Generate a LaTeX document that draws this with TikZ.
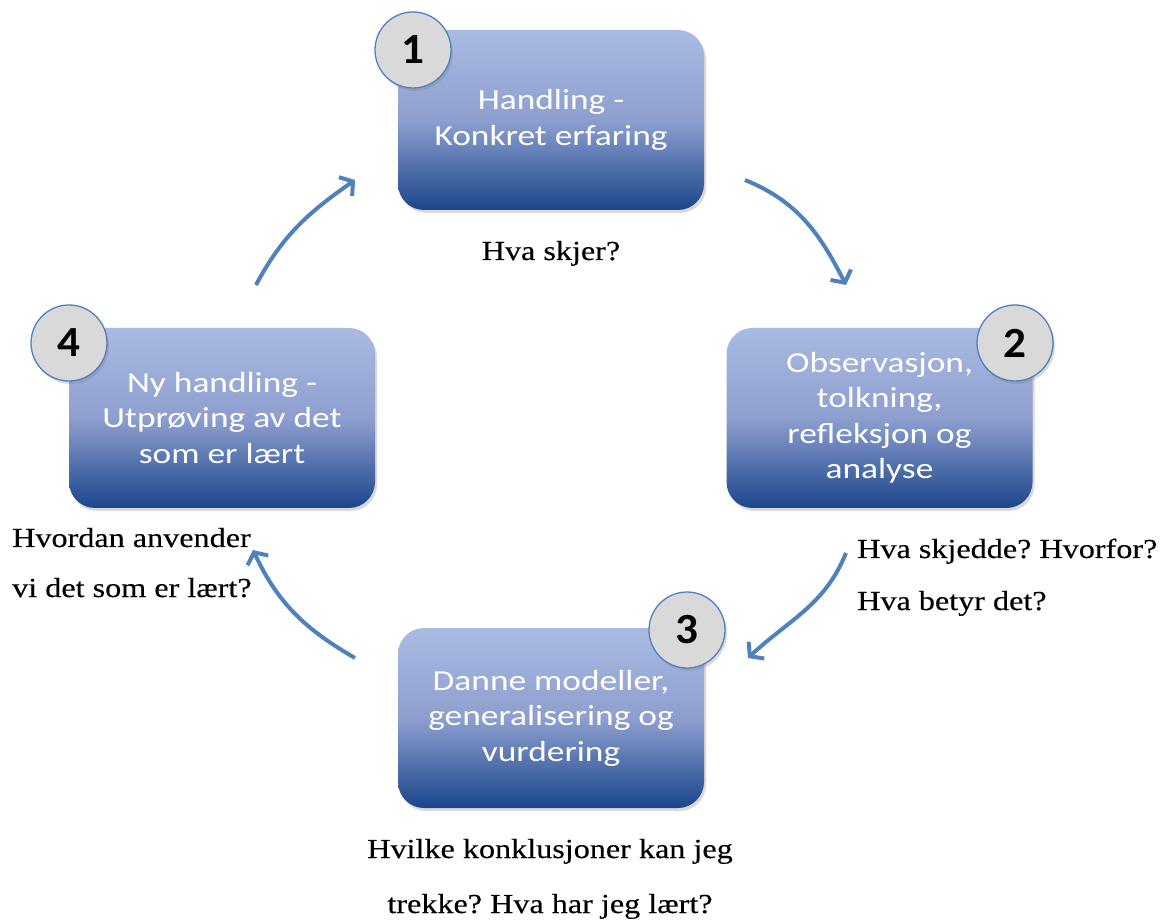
\documentclass[tikz,border=0pt]{standalone}
\usepackage{fontspec}
\usetikzlibrary{arrows.meta,shadows}
\newfontfamily\boxfont[FakeStretch=1.22]{Carlito}
\newfontfamily\numfont[FakeStretch=1.05]{Carlito}
\newfontfamily\qfont[FakeStretch=1.17,FakeBold=0.3]{Liberation Serif}
\definecolor{boxtop}{HTML}{A9BAE2}
\definecolor{boxmid}{HTML}{8E9FCF}
\definecolor{boxbot}{HTML}{1B468C}
\definecolor{arrowblue}{HTML}{4F81BD}
\definecolor{circfill}{HTML}{D9D9D9}
\frenchspacing
\begin{document}
\begin{tikzpicture}[x=1pt,y=1pt,
  stagebox/.style={rectangle, rounded corners=26pt, minimum width=306pt,
    minimum height=180pt, inner sep=0pt, top color=boxtop, bottom color=boxbot,
    middle color=boxmid, text=white, align=center,
    font=\boxfont\fontsize{29}{35.5}\selectfont,
    drop shadow={shadow xshift=2pt, shadow yshift=-3pt, opacity=0.3}},
  numcircle/.style={circle, minimum size=76pt, inner sep=0pt, fill=circfill,
    draw=arrowblue, line width=1.3pt,
    font=\numfont\bfseries\fontsize{43}{43}\selectfont,
    drop shadow={shadow xshift=2pt, shadow yshift=-3pt, opacity=0.3}},
  cyclearrow/.style={draw=arrowblue, line width=4pt,
    -{Straight Barb[length=9pt,width=23pt]}},
  question/.style={font=\qfont\fontsize{27.5}{30}\selectfont, inner sep=0pt}]
\useasboundingbox (0,0) rectangle (1161,919);

% boxes
\node[stagebox] (b1) at (551,799) {Handling -\\Konkret erfaring};
\node[stagebox] (b2) at (879.5,501) {Observasjon,\\tolkning,\\refleksjon og\\analyse};
\node[stagebox] (b3) at (551,201) {Danne modeller,\\generalisering og\\vurdering};
\node[stagebox] (b4) at (222,501) {Ny handling -\\Utpr\o ving av det\\som er l\ae rt};

% number circles
\node[numcircle] (n1) at (413,869) {1};
\node[numcircle] (n2) at (1015,576) {2};
\node[numcircle] (n3) at (687,289) {3};
\node[numcircle] (n4) at (69,576) {4};

% questions
\node[question, anchor=base] (q1) at (551,659) {Hva skjer?};
\node[question, anchor=base west] (q2a) at (857,361) {Hva skjedde? Hvorfor?};
\node[question, anchor=base west] (q2b) at (857,309) {Hva betyr det?};
\node[question, anchor=base] (q3a) at (550,61) {Hvilke konklusjoner kan jeg};
\node[question, anchor=base] (q3b) at (550,6) {trekke? Hva har jeg l\ae rt?};
\node[question, anchor=base west] (q4a) at (12,372) {Hvordan anvender};
\node[question, anchor=base west] (q4b) at (12,322) {vi det som er l\ae rt?};

% arrows
\coordinate (a1s) at (745,739);
\coordinate (a1e) at (846,634);
\coordinate (a2s) at (846,366);
\coordinate (a2e) at (748,261);
\coordinate (a3s) at (355,261);
\coordinate (a3e) at (253,369);
\coordinate (a4s) at (256,634);
\coordinate (a4e) at (355,739);
\draw[cyclearrow] (a1s) to[out=-22, in=117] (a1e);
\draw[cyclearrow] (a2s) to[out=-112, in=43] (a2e);
\draw[cyclearrow] (a3s) to[out=150, in=-65] (a3e);
\draw[cyclearrow] (a4s) to[out=62, in=-145] (a4e);
\end{tikzpicture}
\end{document}
